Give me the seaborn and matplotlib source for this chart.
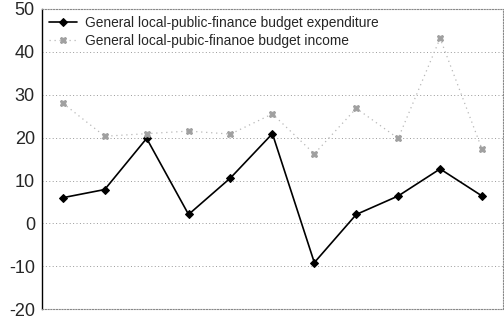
import matplotlib
matplotlib.use("Agg")
import matplotlib.pyplot as plt
import seaborn as sns
import pandas as pd
import numpy as np

periods = list(range(1, 12))
expenditure = [6.0, 7.9, 19.8, 2.1, 10.6, 20.9, -9.1, 2.1, 6.4, 12.7, 6.4]
income = [28.0, 20.3, 20.9, 21.5, 20.8, 25.5, 16.2, 26.8, 19.8, 43.1, 17.3]
label_exp = "General local-public-finance budget expenditure"
label_inc = "General local-pubic-finanoe budget income"
yticks = [-20, -10, 0, 10, 20, 30, 40, 50]

sns.set_style("white")
plt.rcParams['font.family'] = ['Liberation Sans', 'DejaVu Sans']

df = pd.DataFrame({
    "period": periods * 2,
    "value": expenditure + income,
    "series": [label_exp] * len(periods) + [label_inc] * len(periods),
})

fig = plt.figure(figsize=(5.04, 3.19), dpi=100)
ax = fig.add_axes([0.083, 0.03, 0.915, 0.943])

sns.lineplot(data=df[df.series == label_exp], x="period", y="value", ax=ax,
             color="black", linewidth=1.2, marker="D", markersize=4.5,
             markeredgecolor="black", label=label_exp)
sns.lineplot(data=df[df.series == label_inc], x="period", y="value", ax=ax,
             color="#b8b8b8", linewidth=0.9, linestyle=(0, (1, 3)), marker="X",
             markersize=4.5, markerfacecolor="#a0a0a0", markeredgecolor="#a0a0a0",
             label=label_inc)

ax.set_xlim(0.5, 11.5)
ax.set_ylim(-20, 50)
ax.set_yticks(yticks)
ax.set_yticklabels([str(t) for t in yticks], fontsize=13)
ax.set_xticks([])
ax.set_xlabel("")
ax.set_ylabel("")
ax.tick_params(axis="y", length=0, pad=5)
for t in yticks[1:-1]:
    ax.axhline(t, color="#999999", linewidth=0.7, linestyle=(0, (1, 2.5)), zorder=0)

ax.spines["left"].set_color("black")
ax.spines["left"].set_linewidth(1.0)
for s in ["top", "right", "bottom"]:
    ax.spines[s].set_color("#888888")
    ax.spines[s].set_linewidth(0.8)
    ax.spines[s].set_linestyle((0, (1, 1.5)))

ax.legend(loc="upper left", frameon=False, fontsize=9.9, handlelength=2.0,
          borderaxespad=0.25, labelspacing=0.25, handletextpad=0.6,
          borderpad=0.3)

fig.savefig("out.png", dpi=100)
